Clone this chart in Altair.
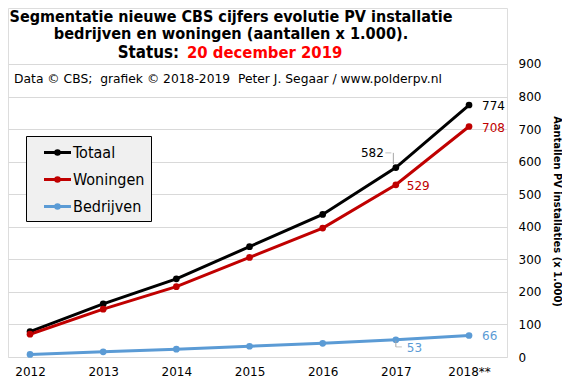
import altair as alt
import pandas as pd

years = ["2012", "2013", "2014", "2015", "2016", "2017", "2018**"]
totaal = [78, 163, 240, 339, 438, 582, 774]
woningen = [70, 147, 216, 306, 396, 529, 708]
bedrijven = [8, 16, 24, 33, 42, 53, 66]
series = ["Totaal", "Woningen", "Bedrijven"]
colors = ["#000000", "#c00000", "#5b9bd5"]

title1 = "Segmentatie nieuwe CBS cijfers evolutie PV installatie"
title2 = "bedrijven en woningen (aantallen x 1.000)."
status_label = "Status:"
status_date = "20 december 2019"
credit = "Data \u00a9 CBS;\u00a0 grafiek \u00a9 2018-2019\u00a0 Peter J. Segaar / www.polderpv.nl"
y_title = "Aantallen PV installaties (x 1.000)"

FONT = "DejaVu Sans"
COND = "DejaVu Sans Condensed, DejaVu Sans"

rows = []
for name, vals in zip(series, [totaal, woningen, bedrijven]):
    for yr, v in zip(years, vals):
        rows.append({"year": yr, "value": v, "series": name})
df = pd.DataFrame(rows)

xenc = alt.X("year:N", sort=years,
             scale=alt.Scale(type="point", padding=0.41, align=0.367),
             axis=alt.Axis(title=None, labelAngle=0, domain=False, ticks=False,
                           labelFontSize=12, labelFont=FONT, labelColor="#000",
                           labelPadding=9, grid=False, labelOverlap=False))
yscale = alt.Scale(domain=[0, 1072], nice=False, zero=True)
yaxis = alt.Axis(orient="right", values=[0, 100, 200, 300, 400, 500, 600, 700, 800, 900],
                 domain=False, ticks=False, grid=True, gridColor="#d9d9d9",
                 labelFontSize=12, labelFont=FONT, labelColor="#000", labelOverlap=False,
                 labelPadding=11, title=y_title, titleAngle=90,
                 titleFont=COND, titleFontSize=11, titleFontWeight="bold",
                 titleColor="#000", titleX=49, titleY=203,
                 titleAlign="center", titleBaseline="middle")
yenc = alt.Y("value:Q", scale=yscale, axis=yaxis)

legend_path = "M-1.5,0H1.5M0.2,0A0.2,0.2,0,1,1,-0.2,0A0.2,0.2,0,1,1,0.2,0"

lines = alt.Chart(df).mark_line(strokeWidth=3, point=alt.OverlayMarkDef(filled=True, size=45)).encode(
    x=xenc, y=yenc,
    color=alt.Color("series:N", sort=series,
                    scale=alt.Scale(domain=series, range=colors),
                    legend=alt.Legend(title=None, orient="none", legendX=18, legendY=128,
                                      fillColor="#f0f0f0", strokeColor="#000",
                                      padding=6, rowPadding=8, symbolOffset=15,
                                      symbolType=legend_path, symbolSize=324,
                                      symbolStrokeWidth=3, labelFont=COND,
                                      labelFontSize=16, labelColor="#000",
                                      labelOffset=5,
                                      labelExpr="datum.label + '\u00a0\u00a0\u00a0\u00a0\u00a0\u00a0'")),
    order=alt.Order("year:N"),
)

# data labels
lab_left = pd.DataFrame({
    "year": ["2018**", "2018**", "2018**", "2017", "2017"],
    "value": [774, 708, 66, 529, 53],
    "dy": [1, 1.5, 0, 1, 8],
    "dx": [13, 13, 13, 11, 11],
    "c": ["#000000", "#c00000", "#5b9bd5", "#c00000", "#5b9bd5"],
})
lab_left["label"] = lab_left["value"].astype(str)


def label_layer(d, align, dx, dy):
    return alt.Chart(d).mark_text(align=align, baseline="middle", dx=dx, dy=dy,
                                  font=FONT, fontSize=12).encode(
        x=xenc, y=yenc, text="label:N", fill=alt.Fill("c:N", scale=None))


labels = []
for i in range(len(lab_left)):
    r = lab_left.iloc[[i]]
    labels.append(label_layer(r, "left", float(r["dx"].iloc[0]), float(r["dy"].iloc[0])))
lab_582 = pd.DataFrame({"year": ["2017"], "value": [582], "label": ["582"], "c": ["#000000"]})
labels.append(label_layer(lab_582, "right", -12, -15))

# leader lines
lead_a = pd.DataFrame({"year": ["2017"], "value": [593], "value2": [627]})
lead_b = pd.DataFrame({"year": ["2017"], "value": [31], "value2": [50]})
leaders = [
    alt.Chart(lead_a).mark_rule(color="#a6a6a6", strokeWidth=1, xOffset=-2.5).encode(
        x=xenc, y=yenc, y2="value2:Q"),
    alt.Chart(lead_b).mark_rule(color="#a6a6a6", strokeWidth=1).encode(
        x=xenc, y=yenc, y2="value2:Q"),
    alt.Chart(pd.DataFrame({"year": ["2017"], "value": [627]})).mark_tick(
        color="#a6a6a6", orient="horizontal", size=6, thickness=1, xOffset=-7.5).encode(
        x=xenc, y=yenc),
    alt.Chart(pd.DataFrame({"year": ["2017"], "value": [31]})).mark_tick(
        color="#a6a6a6", orient="horizontal", size=6, thickness=1, xOffset=3).encode(
        x=xenc, y=yenc),
]


def text_layer(t, x, y, align, size, color, weight="normal", font=COND):
    return alt.Chart(pd.DataFrame({"t": [t]})).mark_text(
        align=align, baseline="alphabetic", font=font, fontSize=size,
        fontWeight=weight, color=color).encode(text="t:N", x=alt.value(x), y=alt.value(y))


titles = [
    text_layer(title1, 223, 13.5, "center", 16, "#000", "bold"),
    text_layer(title2, 223, 31, "center", 16.2, "#000", "bold"),
    text_layer(status_label, 171, 50, "right", 16.8, "#000", "bold"),
    text_layer(status_date, 179, 50, "left", 16.5, "#ff0000", "bold"),
    text_layer(credit, 220, 75, "center", 12.3, "#000", "normal", FONT),
]

chart = alt.layer(lines, *labels, *leaders, *titles).properties(
    width=499, height=349,
    autosize=alt.AutoSizeParams(type="none"),
    padding={"left": 0, "top": 0, "right": 55, "bottom": 24},
).configure_view(stroke=None).configure(background="#ffffff")

chart.save("out.html", embed_options={"renderer": "svg", "actions": False})
